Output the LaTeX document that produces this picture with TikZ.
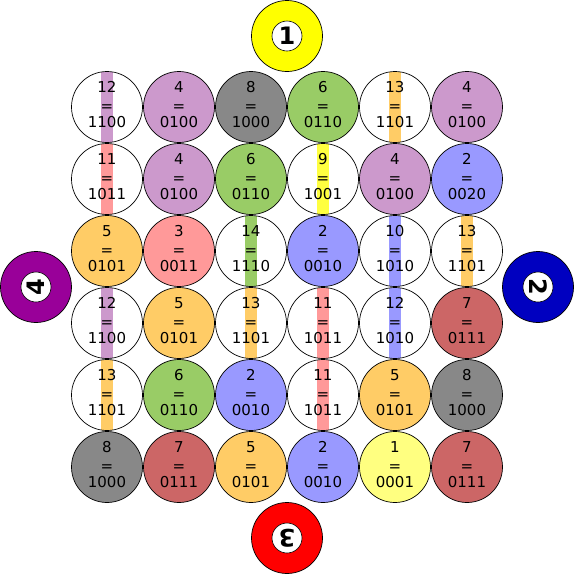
\documentclass[tikz,border=0pt]{standalone}
\usepackage{fontspec}
\setmainfont{DejaVu Sans}
\definecolor{cPurple}{HTML}{CC99CC}
\definecolor{cGray}{HTML}{888888}
\definecolor{cGreen}{HTML}{99CC66}
\definecolor{cOrange}{HTML}{FFCC66}
\definecolor{cPink}{HTML}{FF9999}
\definecolor{cBlue}{HTML}{9999FF}
\definecolor{cMaroon}{HTML}{CC6666}
\definecolor{cYellow}{HTML}{FFFF80}
\definecolor{cYellowS}{HTML}{FFFF40}
\definecolor{bigYellow}{HTML}{FFFF00}
\definecolor{bigBlue}{HTML}{0000C0}
\definecolor{bigRed}{HTML}{FF0000}
\definecolor{bigPurple}{HTML}{990099}
\begin{document}
\begin{tikzpicture}[x=1pt, y=-1pt,
    ball/.style={circle, draw=black, line width=0.7pt, minimum size=71pt, inner sep=0pt},
    bigball/.style={circle, draw=black, line width=0.7pt, minimum size=71pt, inner sep=0pt},
    disc/.style={circle, draw=black, fill=white, line width=0.6pt, minimum size=30pt, inner sep=0pt,
      font=\fontsize{24}{24}\selectfont\bfseries},
    num/.style={inner sep=0pt, font=\fontsize{15}{15}\selectfont}]
  \useasboundingbox (0,0) rectangle (574,574);
  % plain balls
  \foreach \r/\c/\n/\b/\f in {1/2/4/0100/cPurple, 1/3/8/1000/cGray, 1/4/6/0110/cGreen,
      1/6/4/0100/cPurple, 2/2/4/0100/cPurple, 2/3/6/0110/cGreen, 2/5/4/0100/cPurple,
      2/6/2/0020/cBlue, 3/1/5/0101/cOrange, 3/2/3/0011/cPink, 3/4/2/0010/cBlue,
      4/2/5/0101/cOrange, 4/6/7/0111/cMaroon, 5/2/6/0110/cGreen, 5/3/2/0010/cBlue,
      5/5/5/0101/cOrange, 5/6/8/1000/cGray, 6/1/8/1000/cGray, 6/2/7/0111/cMaroon,
      6/3/5/0101/cOrange, 6/4/2/0010/cBlue, 6/5/1/0001/cYellow, 6/6/7/0111/cMaroon} {
    \node[ball, fill=\f] (b\r\c) at (35+72*\c, 35+72*\r) {};
    \node[num, yshift=20pt] (t\r\c) at (b\r\c) {\n};
    \node[num, yshift=-1pt] (e\r\c) at (b\r\c) {=};
    \node[num, yshift=-15pt] (v\r\c) at (b\r\c) {\b};
  }
  % striped balls
  \foreach \r/\c/\n/\b/\s in {1/1/12/1100/cPurple, 1/5/13/1101/cOrange, 2/1/11/1011/cPink,
      2/4/9/1001/cYellowS, 3/3/14/1110/cGreen, 3/5/10/1010/cBlue, 3/6/13/1101/cOrange,
      4/1/12/1100/cPurple, 4/3/13/1101/cOrange, 4/4/11/1011/cPink, 4/5/12/1010/cBlue,
      5/1/13/1101/cOrange, 5/4/11/1011/cPink} {
    \node[ball, fill=white, path picture={
        \fill[\s] ([xshift=-6pt]path picture bounding box.north) rectangle
                  ([xshift=6pt]path picture bounding box.south);}] (b\r\c) at (35+72*\c, 35+72*\r) {};
    \node[num, yshift=20pt] (t\r\c) at (b\r\c) {\n};
    \node[num, yshift=-1pt] (e\r\c) at (b\r\c) {=};
    \node[num, yshift=-15pt] (v\r\c) at (b\r\c) {\b};
  }
  % the four cue balls
  \node[bigball, fill=bigYellow] (ball1) at (287,36) {};
  \node[disc] (d1) at (ball1) {1};
  \node[bigball, fill=bigBlue] (ball2) at (538,287) {};
  \node[disc, rotate=-90] (d2) at (ball2) {2};
  \node[bigball, fill=bigRed] (ball3) at (287,538) {};
  \node[disc, rotate=180] (d3) at (ball3) {3};
  \node[bigball, fill=bigPurple] (ball4) at (36,287) {};
  \node[disc, rotate=90] (d4) at (ball4) {4};
\end{tikzpicture}
\end{document}
